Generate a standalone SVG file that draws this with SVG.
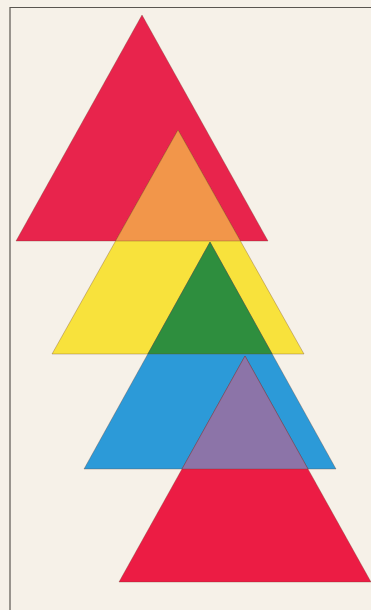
<svg xmlns="http://www.w3.org/2000/svg" width="371" height="610" viewBox="0 0 371 610">
<style>
.tri{stroke:#6a3a2a;stroke-opacity:0.45;stroke-width:0.7;stroke-linejoin:miter}
.frame{fill:none;stroke:#5a5650;stroke-width:1.2}
</style>
<rect width="371" height="610" fill="#f6f1e8"/>
<path class="frame" d="M10,611 V7.5 H372"/>
<g id="triangle-red-top"><polygon class="tri" fill="#e8244c" points="142,15 16,241 268,241"/></g>
<g id="triangle-yellow"><polygon class="tri" fill="#f8e23c" points="178,130 52,354 304,354"/></g>
<g id="triangle-blue"><polygon class="tri" fill="#2c9ad8" points="210,242 84,469 336,469"/></g>
<g id="triangle-red-bottom"><polygon class="tri" fill="#ec1c44" points="245,356 119,582 371,582"/></g>
<g id="overlap-orange"><polygon class="tri" fill="#f2964a" points="178,130 115.6,241 240.4,241"/></g>
<g id="overlap-green"><polygon class="tri" fill="#2e8e3e" points="210,242 147.8,354 272.2,354"/></g>
<g id="overlap-purple"><polygon class="tri" fill="#8c74a8" points="245,356 182,469 308,469"/></g>
</svg>
